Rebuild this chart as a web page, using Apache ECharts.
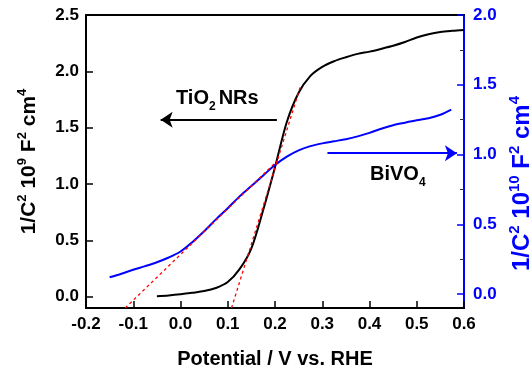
<!DOCTYPE html>
<html>
<head>
<meta charset="utf-8">
<script src="https://cdn.jsdelivr.net/npm/echarts@6/dist/echarts.min.js"></script>
<style>
html, body { margin: 0; padding: 0; background: #fff; }
#chart { width: 529px; height: 376px; }
</style>
</head>
<body>
<div id="chart"></div>
<script>
// TiO2 NRs, left axis (1/C^2, 10^9 F^-2 cm^4)
var tioX = [-0.05, -0.025, 0.0, 0.025, 0.05, 0.075, 0.1, 0.125, 0.15, 0.175, 0.2, 0.225, 0.25, 0.275, 0.3,
            0.325, 0.35, 0.375, 0.4, 0.425, 0.45, 0.475, 0.5, 0.525, 0.55, 0.575, 0.6];
var tioY = [0.005, 0.012, 0.022, 0.035, 0.05, 0.078, 0.13, 0.245, 0.43, 0.77, 1.15, 1.55, 1.81, 1.96, 2.04,
            2.09, 2.125, 2.155, 2.175, 2.2, 2.227, 2.26, 2.3, 2.33, 2.35, 2.36, 2.367];
// BiVO4, right axis (10^10)
var bivX = [-0.15, -0.125, -0.1, -0.075, -0.05, -0.025, 0.0, 0.025, 0.05, 0.075, 0.1, 0.125, 0.15, 0.175, 0.2,
            0.225, 0.25, 0.275, 0.3, 0.325, 0.35, 0.375, 0.4, 0.425, 0.45, 0.475, 0.5, 0.525, 0.55, 0.573];
var bivY = [0.12, 0.146, 0.174, 0.2, 0.228, 0.262, 0.305, 0.372, 0.45, 0.535, 0.615, 0.7, 0.775, 0.85, 0.925,
            0.985, 1.03, 1.06, 1.08, 1.095, 1.11, 1.13, 1.155, 1.185, 1.21, 1.228, 1.245, 1.26, 1.285, 1.322];
// linear fits (red dashed)
var tioFitX = [0.108, 0.254];
var tioFitY = [-0.1, 1.87];
var bivFitX = [-0.117, 0.205];
var bivFitY = [-0.1, 0.955];
// arrows [x, y]
var tioArrow = [[0.204, 1.57], [-0.042, 1.57]];
var bivArrow = [[0.311, 1.01], [0.585, 1.01]];
// ticks
var xTicks = [-0.2, -0.1, 0.0, 0.1, 0.2, 0.3, 0.4, 0.5, 0.6];
var leftTicks = [0, 0.5, 1.0, 1.5, 2.0, 2.5];
var rightTicks = [0, 0.5, 1.0, 1.5, 2.0];
var rightMinor = [0.25, 0.75, 1.25, 1.75];

function zip(xs, ys) {
  return xs.map(function (x, i) { return [x, ys[i]]; });
}
function fmt(v) { return (Math.round(v * 10) / 10).toFixed(1); }

var FONT = 'Liberation Sans';
var BLUE = '#0000ff';
var richAxis = function (color, size, sup) {
  return {
    a: { fontFamily: FONT, fontWeight: 'bold', fontSize: size, color: color, lineHeight: size + 5 },
    s: { fontFamily: FONT, fontWeight: 'bold', fontSize: sup, color: color, verticalAlign: 'top' }
  };
};
var richNote = function (color) {
  return {
    a: { fontFamily: FONT, fontWeight: 'bold', fontSize: 20, color: color, lineHeight: 30 },
    b: { fontFamily: FONT, fontWeight: 'bold', fontSize: 12, color: color, verticalAlign: 'bottom', padding: [0, 3, 0, 0] }
  };
};
var tickFont = { fontFamily: FONT, fontWeight: 'bold', fontSize: 17 };

var chart = echarts.init(document.getElementById('chart'));
chart.setOption({
  animation: false,
  backgroundColor: '#fff',
  grid: { left: 86, right: 65, top: 15, bottom: 68, outerBoundsMode: 'none', containLabel: false },
  xAxis: [
    {
      type: 'value', min: -0.2, max: 0.6,
      name: 'Potential / V vs. RHE', nameLocation: 'middle', nameGap: 41,
      nameTextStyle: { fontFamily: FONT, fontWeight: 'bold', fontSize: 20, color: '#000' },
      axisLine: { onZero: false, lineStyle: { color: '#000', width: 2 } },
      axisTick: { inside: true, length: 7, customValues: xTicks, lineStyle: { color: '#000', width: 1.5 } },
      axisLabel: Object.assign({ customValues: xTicks, formatter: fmt, margin: 8, color: '#000' }, tickFont),
      splitLine: { show: false }
    },
    {
      type: 'value', min: -0.2, max: 0.6, position: 'top',
      axisLine: { onZero: false, lineStyle: { color: '#000', width: 2 } },
      axisTick: { show: false }, axisLabel: { show: false }, splitLine: { show: false }
    }
  ],
  yAxis: [
    {
      type: 'value', min: -0.1, max: 2.5, position: 'left',
      name: '{a|1/C}{s|2}{a| 10}{s|9}{a| F}{s|2}{a| cm}{s|4}',
      nameLocation: 'middle', nameGap: 44, nameRotate: 90,
      nameTextStyle: { rich: richAxis('#000', 21, 13) },
      axisLine: { onZero: false, lineStyle: { color: '#000', width: 2 } },
      axisTick: { inside: true, length: 7, customValues: leftTicks, lineStyle: { color: '#000', width: 1.5 } },
      axisLabel: Object.assign({ customValues: leftTicks, formatter: fmt, margin: 7, color: '#000' }, tickFont),
      splitLine: { show: false }
    },
    {
      // minor ticks on the right axis (drawn under the main right axis)
      type: 'value', min: -0.1, max: 2.0, position: 'right',
      axisLine: { onZero: false, lineStyle: { color: BLUE, width: 2 } },
      axisTick: { inside: true, length: 4, customValues: rightMinor, lineStyle: { color: '#333', width: 1 } },
      axisLabel: { show: false }, splitLine: { show: false }
    },
    {
      type: 'value', min: -0.1, max: 2.0, position: 'right',
      name: '{a|1/C}{s|2}{a| 10}{s|10}{a| F}{s|2}{a| cm}{s|4}',
      nameLocation: 'middle', nameGap: 41, nameRotate: 90,
      nameTextStyle: { rich: richAxis(BLUE, 24, 15), padding: [0, 44, 0, 0] },
      axisLine: { onZero: false, lineStyle: { color: BLUE, width: 2 } },
      axisTick: { inside: true, length: 7, customValues: rightTicks, lineStyle: { color: BLUE, width: 1.5 } },
      axisLabel: Object.assign({ customValues: rightTicks, formatter: fmt, margin: 9, color: BLUE }, tickFont),
      splitLine: { show: false }
    }
  ],
  series: [
    {
      name: 'TiO2 NRs', type: 'line', xAxisIndex: 0, yAxisIndex: 0,
      data: zip(tioX, tioY), smooth: 0.3, showSymbol: false,
      lineStyle: { color: '#000', width: 2 },
      markLine: {
        silent: true, symbol: ['none', 'arrow'], symbolSize: 12,
        label: { show: false },
        lineStyle: { color: '#000', width: 2, type: 'solid' },
        data: [[{ coord: tioArrow[0] }, { coord: tioArrow[1] }]]
      }
    },
    {
      name: 'BiVO4', type: 'line', xAxisIndex: 0, yAxisIndex: 2,
      data: zip(bivX, bivY), smooth: 0.3, showSymbol: false,
      lineStyle: { color: BLUE, width: 2 },
      markLine: {
        silent: true, symbol: ['none', 'arrow'], symbolSize: 12,
        label: { show: false },
        lineStyle: { color: BLUE, width: 2, type: 'solid' },
        data: [[{ coord: bivArrow[0] }, { coord: bivArrow[1] }]]
      }
    },
    {
      name: 'TiO2 fit', type: 'line', xAxisIndex: 0, yAxisIndex: 0,
      data: zip(tioFitX, tioFitY), showSymbol: false,
      lineStyle: { color: '#ff0000', width: 1.3, type: [3, 3] }
    },
    {
      name: 'BiVO4 fit', type: 'line', xAxisIndex: 0, yAxisIndex: 2,
      data: zip(bivFitX, bivFitY), showSymbol: false,
      lineStyle: { color: '#ff0000', width: 1.3, type: [3, 3] }
    }
  ],
  graphic: [
    {
      type: 'text', left: 176, top: 88,
      style: { text: '{a|TiO}{b|2}{a|NRs}', rich: richNote('#000') }
    },
    {
      type: 'text', left: 370, top: 164,
      style: { text: '{a|BiVO}{b|4}', rich: richNote('#000') }
    }
  ]
});
</script>
</body>
</html>
